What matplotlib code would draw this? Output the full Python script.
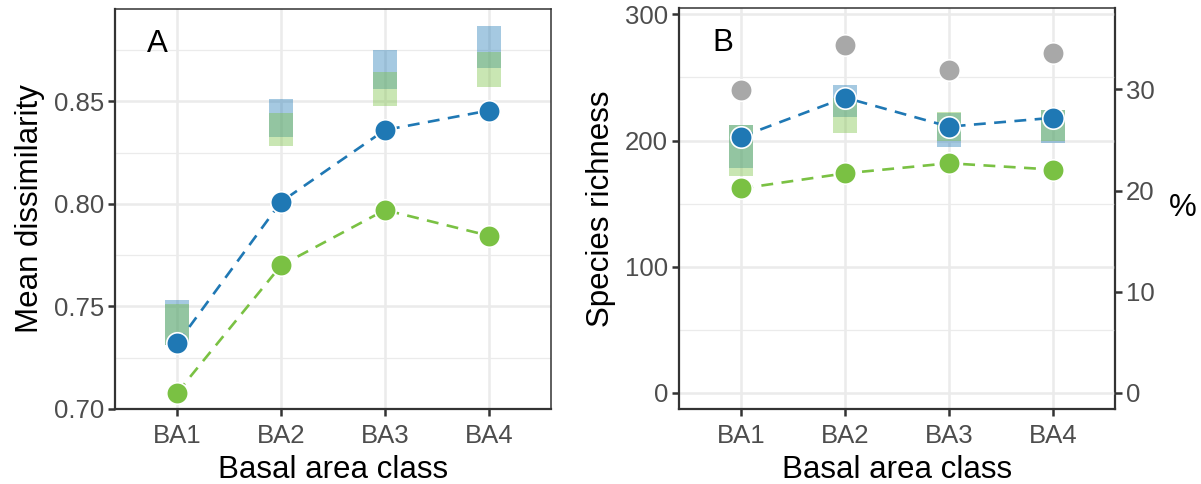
import matplotlib
matplotlib.use("Agg")
import matplotlib.pyplot as plt
import numpy as np

plt.rcParams['font.family'] = ['Liberation Sans', 'DejaVu Sans']

# data
classes = ["BA1", "BA2", "BA3", "BA4"]

# panel A - mean dissimilarity
dis_blue = [0.732, 0.801, 0.836, 0.8455]
dis_green = [0.708, 0.770, 0.797, 0.7845]
dis_blue_lo = [0.731, 0.8325, 0.856, 0.866]
dis_blue_hi = [0.753, 0.851, 0.875, 0.8865]
dis_green_lo = [0.731, 0.828, 0.8475, 0.857]
dis_green_hi = [0.751, 0.8445, 0.8645, 0.874]

# panel B - species richness
rich_total = [240, 276, 256, 269]
rich_blue = [203, 234, 211, 218]
rich_green = [162, 174, 182, 177]
rich_blue_lo = [178, 219, 195, 198]
rich_blue_hi = [212, 244, 222, 224]
rich_green_lo = [172, 206, 200, 200]
rich_green_hi = [212, 234, 223, 224]

pct_factor = 8.02  # richness units per percent on right axis

BLUE = "#1F78B4"
GREEN = "#7AC143"
GREY = "#A8A8A8"
GRID = "#EBEBEB"
TXT = "#4D4D4D"
TICK_FS = 18.5
TITLE_FS = 22.5

fig = plt.figure(figsize=(12.01, 4.84), dpi=100)
axA = fig.add_axes([115/1201, 75/484, 436/1201, 400/484])
axB = fig.add_axes([679/1201, 75/484, 436/1201, 401/484])

x = np.arange(1, len(classes) + 1)
w = 0.115


def style(ax):
    ax.set_xlim(0.4, 4.6)
    ax.set_xticks(x)
    ax.set_xticklabels(classes)
    ax.grid(True, which="major", color=GRID, lw=1.8, zorder=0)
    ax.grid(True, which="minor", axis="y", color=GRID, lw=0.9, zorder=0)
    ax.set_axisbelow(True)
    for s in ax.spines.values():
        s.set_color("#333333")
        s.set_linewidth(1.1)
    ax.spines["left"].set_linewidth(1.6)
    ax.spines["bottom"].set_linewidth(1.6)
    ax.tick_params(axis="both", which="major", length=5, width=1.8, color="#333333",
                   labelsize=TICK_FS, labelcolor=TXT, pad=3)
    ax.tick_params(axis="x", which="major", pad=6)
    ax.tick_params(axis="y", which="minor", length=0)
    ax.set_xlabel("Basal area class", fontsize=TITLE_FS, labelpad=5)


def rects(ax, lo, hi, color):
    for xi, a, b in zip(x, lo, hi):
        ax.fill_between([xi - w, xi + w], a, b, color=color, alpha=0.4, lw=0, zorder=2)


DASH = (0, (4.5, 3.2))

# panel A
style(axA)
axA.set_ylim(0.70, 0.895)
axA.set_yticks([0.70, 0.75, 0.80, 0.85])
axA.set_yticks([0.725, 0.775, 0.825, 0.875], minor=True)
axA.set_yticklabels(["0.70", "0.75", "0.80", "0.85"])
rects(axA, dis_blue_lo, dis_blue_hi, BLUE)
rects(axA, dis_green_lo, dis_green_hi, GREEN)
axA.plot(x, dis_green, ls=DASH, color=GREEN, lw=1.9, zorder=3)
axA.plot(x, dis_blue, ls=DASH, color=BLUE, lw=1.9, zorder=3)
axA.scatter(x, dis_green, s=240, color=GREEN, edgecolor="white", lw=1.2, zorder=4)
axA.scatter(x, dis_blue, s=240, color=BLUE, edgecolor="white", lw=1.2, zorder=5)
axA.set_ylabel("Mean dissimilarity", fontsize=TITLE_FS, labelpad=6)
axA.text(0.073, 0.95, "A", transform=axA.transAxes, fontsize=TITLE_FS, va="top", ha="left")

# panel B
style(axB)
axB.set_ylim(-12.7, 305)
axB.set_yticks([0, 100, 200, 300])
axB.set_yticks([50, 150, 250], minor=True)
rects(axB, rich_blue_lo, rich_blue_hi, BLUE)
rects(axB, rich_green_lo, rich_green_hi, GREEN)
axB.scatter(x, rich_total, s=240, color=GREY, edgecolor="white", lw=1.2, zorder=4)
axB.plot(x, rich_green, ls=DASH, color=GREEN, lw=1.9, zorder=3)
axB.plot(x, rich_blue, ls=DASH, color=BLUE, lw=1.9, zorder=3)
axB.scatter(x, rich_green, s=240, color=GREEN, edgecolor="white", lw=1.2, zorder=4)
axB.scatter(x, rich_blue, s=240, color=BLUE, edgecolor="white", lw=1.2, zorder=5)
axB.set_ylabel("Species richness", fontsize=TITLE_FS, labelpad=6)
axB.text(0.076, 0.95, "B", transform=axB.transAxes, fontsize=TITLE_FS, va="top", ha="left")

sec = axB.secondary_yaxis("right", functions=(lambda v: v / pct_factor, lambda v: v * pct_factor))
sec.set_yticks([0, 10, 20, 30])
sec.tick_params(axis="y", length=5, width=1.8, color="#333333", labelsize=TICK_FS,
                labelcolor=TXT, pad=3)
sec.spines["right"].set_color("#333333")
sec.spines["right"].set_linewidth(1.6)
sec.set_ylabel("%", fontsize=TITLE_FS, rotation=0, va="center", labelpad=20)

fig.savefig("out.png", dpi=100)
